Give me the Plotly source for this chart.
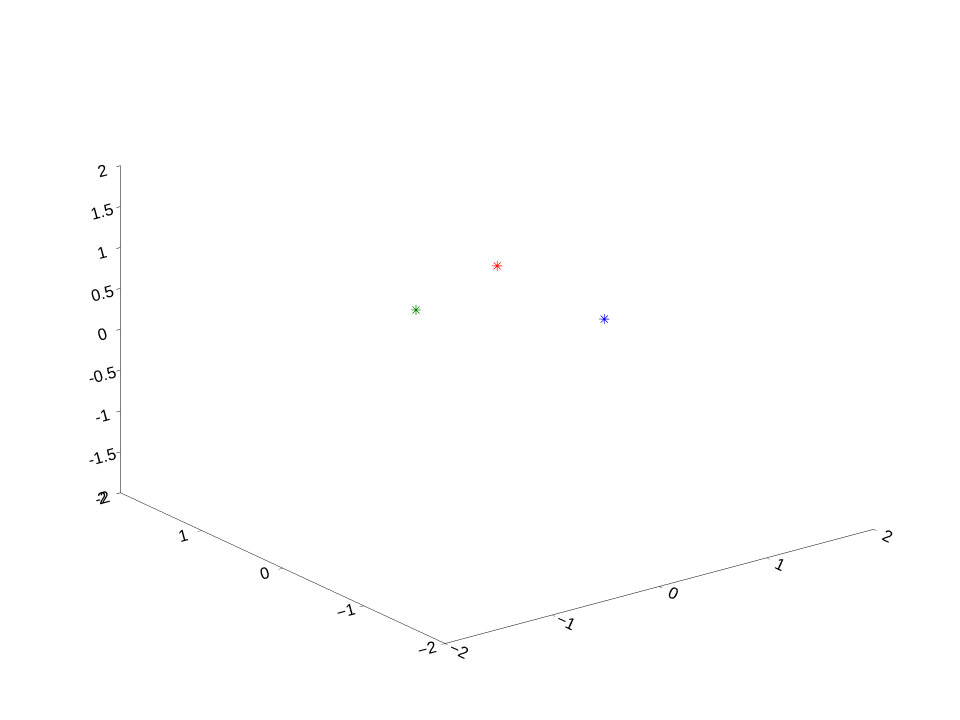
import math
import plotly.graph_objects as go

# Data
names = ["x unit", "y unit", "z unit"]
xs = [1, 0, 0]
ys = [0, 1, 0]
zs = [0, 0, 1]
colors = ["#0000ff", "#008000", "#ff0000"]

xy_ticks = [-2, -1, 0, 1, 2]
z_ticks = [-2, -1.5, -1, -0.5, 0, 0.5, 1, 1.5, 2]
z_ticktext = ["-2", "-1.5", "-1", "-0.5", "0", "0.5", "1", "1.5", "2"]

fig = go.Figure()
for i in range(3):
    fig.add_trace(go.Scatter3d(
        x=[xs[i]], y=[ys[i]], z=[zs[i]], mode="text",
        text=["✳"], textposition="middle center",
        textfont=dict(family="DejaVu Sans", size=14, color=colors[i]),
        name=names[i], showlegend=False, hoverinfo="skip"))

phi = math.radians(232.85)
el = math.radians(20.6)
d = 1.8
eye = dict(x=d * math.cos(el) * math.cos(phi),
           y=d * math.cos(el) * math.sin(phi),
           z=d * math.sin(el))

axis_common = dict(showgrid=False, showbackground=False, showline=True,
                   linecolor="black", linewidth=1, ticks="outside", ticklen=5,
                   tickcolor="black", zeroline=False, showspikes=False,
                   title=dict(text=""), tickfont=dict(family="Liberation Sans, Arial", size=14, color="black"))

s = 1.5835
fig.update_layout(
    width=960, height=720, paper_bgcolor="white",
    margin=dict(l=0, r=0, t=0, b=0),
    scene=dict(
        domain=dict(x=[0.019, 1.0], y=[0.0575, 1.0]),
        xaxis=dict(range=[-2, 2], tickvals=xy_ticks, **axis_common),
        yaxis=dict(range=[-2, 2], tickvals=xy_ticks, **axis_common),
        zaxis=dict(range=[-2, 2], tickvals=z_ticks, ticktext=z_ticktext, **axis_common),
        aspectmode="manual", aspectratio=dict(x=1 * s, y=1 * s, z=0.65 * s),
        camera=dict(eye=eye, up=dict(x=0, y=0, z=1), center=dict(x=0, y=0, z=0),
                    projection=dict(type="orthographic")),
    ),
)
fig.write_html("out.html")
